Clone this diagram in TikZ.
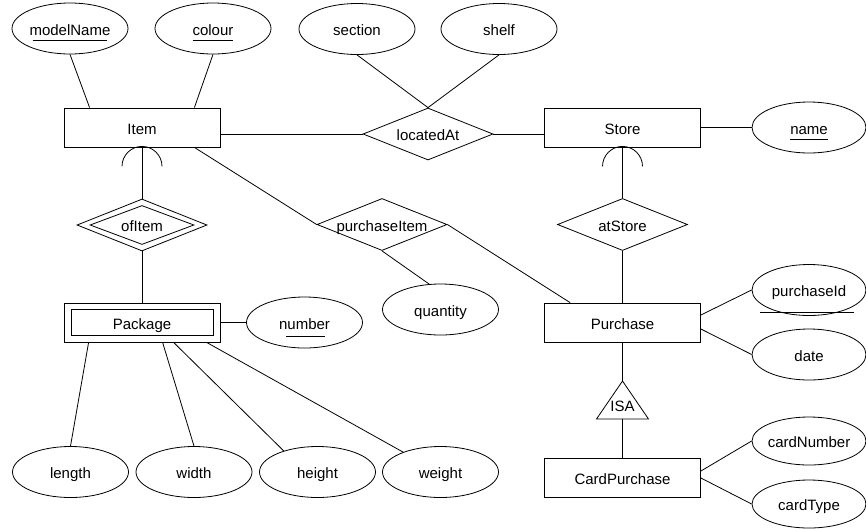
\documentclass[tikz,border=0pt]{standalone}
\usepackage{fontspec}
\setmainfont{Liberation Sans}
\usetikzlibrary{shapes.geometric,calc}

% zero-width label, so that the shape size comes from the minimum sizes only
\newcommand\zw[1]{\makebox[0pt]{#1}}
% key attribute: underline trimmed by #1 (left) and #2 (right), dropped #3 below the baseline
\newcommand\keyattr[4]{%
  \setbox0=\hbox{#4}%
  \rlap{\hspace{#1pt}\rule[-#3pt]{\dimexpr\wd0-(#1pt)-(#2pt)\relax}{0.8pt}}%
  \box0}

\begin{document}
\begin{tikzpicture}[x=1pt,y=-1pt,line width=0.8pt,
  every node/.style={font=\fontsize{15}{18}\selectfont,inner sep=0pt,
                     text height=13.5pt,text depth=0pt},
  entity/.style={draw,rectangle,minimum width=156pt,minimum height=39pt},
  attr/.style={draw,ellipse,minimum width=116pt,minimum height=51pt},
  rel/.style={draw,diamond,minimum width=130pt,minimum height=52pt}]

\useasboundingbox (0,0) rectangle (866,528);

% ---------- entities ----------
\node[entity] (Item) at (142,127.5) {\zw{Item}};
\node[entity] (Store) at (622.5,127.5) {\zw{Store}};
\node[entity] (Package) at (142,322.5) {\zw{Package}};
\node[draw,minimum width=142pt,minimum height=26pt] (PackageInner) at (Package) {};
\node[entity] (Purchase) at (622.5,322.5) {\zw{Purchase}};
\node[entity] (CardPurchase) at (622.5,477.5) {\zw{CardPurchase}};

% ---------- relationships ----------
\node[rel] (locatedAt) at (428,134) {\zw{locatedAt}};
\node[rel] (ofItem) at (142,225) {\zw{ofItem}};
\node[draw,diamond,minimum width=104pt,minimum height=39pt] (ofItemInner) at (ofItem) {};
\node[rel] (purchaseItem) at (382,224.5) {\zw{purchaseItem}};
\node[rel] (atStore) at (622.5,224.5) {\zw{atStore}};

% ---------- attributes ----------
\node[attr] (modelName) at (70,28.5) {\zw{\keyattr{3}{3}{6}{modelName}}};
\node[attr] (colour) at (213,28.5) {\zw{\keyattr{0}{0}{6}{colour}}};
\node[attr] (section) at (357,29) {\zw{section}};
\node[attr] (shelf) at (499,29) {\zw{shelf}};
\node[attr,minimum width=114pt] (name) at (809,127.5) {\zw{\keyattr{0}{0}{6}{name}}};
\node[attr] (number) at (304.5,322.5) {\zw{\keyattr{7}{5}{8}{number}}};
\node[attr] (quantity) at (440.5,309.5) {\zw{quantity}};
\node[attr,minimum width=114pt] (purchaseId) at (809,290) {\zw{\keyattr{-12}{-8}{16}{purchaseId}}};
\node[attr,minimum width=114pt] (date) at (809,354.5) {\zw{date}};
\node[attr,minimum width=114pt,minimum height=48pt] (cardNumber) at (809,441) {\zw{cardNumber}};
\node[attr,minimum width=114pt,minimum height=48pt] (cardType) at (809,504) {\zw{cardType}};
\node[attr] (length) at (70.5,472) {\zw{length}};
\node[attr] (width) at (194,472) {\zw{width}};
\node[attr] (height) at (317.5,472) {\zw{height}};
\node[attr] (weight) at (440.5,472) {\zw{weight}};

% ---------- ISA triangle ----------
\coordinate (isaTop) at (622.5,381);
\coordinate (isaBase) at (622.5,419);
\draw (isaTop) -- ($(isaBase)+(26,0)$) -- ($(isaBase)+(-26,0)$) -- cycle;
\node (isa) at (622.5,405) {\zw{ISA}};

% ---------- connectors ----------
\draw (modelName.south) -- ($(Item.north west)+(26,0)$);
\draw (colour.south) -- ($(Item.north east)+(-26,0)$);
\draw (section.south) -- (locatedAt.north);
\draw (shelf.south) -- (locatedAt.north);
\draw (locatedAt.west -| Item.east) -- (locatedAt.west);
\draw (locatedAt.east) -- (locatedAt.east -| Store.west);
\draw (Store.east) -- (name.west);

\draw (Item.south) -- (ofItem.north);
\draw ($(Item.south)+(-20,19)$) arc[start angle=180,end angle=0,radius=20pt];
\draw (ofItem.south) -- (Package.north);
\draw (Package.east) -- (number.west);

\draw ($(Package.south west)+(25,0)$) -- (length.north);
\draw ($(Package.south west)+(99,0)$) -- (width.north);
\draw ($(Package.south west)+(110,0)$) -- (height.148);
\draw ($(Package.south west)+(143,0)$) -- (weight.152);

\draw ($(Item.south east)+(-26,0)$) -- (purchaseItem.west);
\draw (purchaseItem.east) -- ($(Purchase.north west)+(26,0)$);
\draw (purchaseItem.south) -- (quantity.114);

\draw (Store.south) -- (atStore.north);
\draw ($(Store.south)+(-20,19)$) arc[start angle=180,end angle=0,radius=20pt];
\draw (atStore.south) -- (Purchase.north);

\draw ($(Purchase.east)+(0,-7.5)$) -- (purchaseId.west);
\draw ($(Purchase.east)+(0,6.5)$) -- (date.west);
\draw (Purchase.south) -- (isaTop);
\draw (isaBase) -- (CardPurchase.north);
\draw ($(CardPurchase.east)+(0,-6.5)$) -- (cardNumber.west);
\draw ($(CardPurchase.east)+(0,0.5)$) -- (cardType.west);

\end{tikzpicture}
\end{document}
